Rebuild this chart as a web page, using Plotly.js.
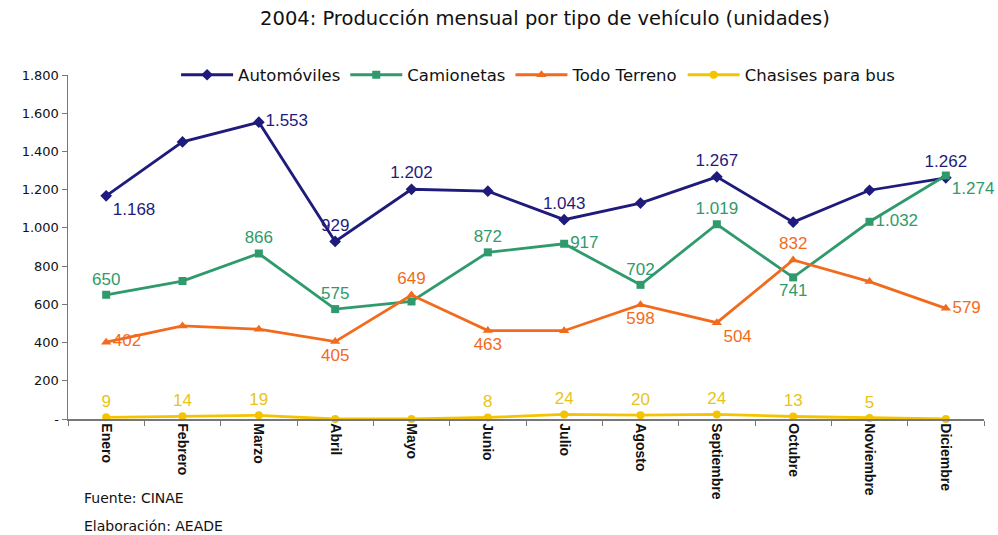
<!DOCTYPE html>
<html>
<head>
<meta charset="utf-8">
<script src="https://cdn.plot.ly/plotly-3.0.1.min.js"></script>
<style>html,body{margin:0;padding:0;background:#fff;}#chart{width:998px;height:535px;}</style>
</head>
<body>
<div id="chart"></div>
<script>
const months = ['Enero','Febrero','Marzo','Abril','Mayo','Junio','Julio','Agosto','Septiembre','Octubre','Noviembre','Diciembre'];
const seriesNames = ['Automóviles','Camionetas','Todo Terreno','Chasises para bus'];
const automoviles = [1168,1450,1553,929,1202,1192,1043,1130,1267,1030,1197,1262];
const camionetas = [650,722,866,575,615,872,917,702,1019,741,1032,1274];
const todoTerreno = [402,487,470,405,649,463,462,598,504,832,719,579];
const chasises = [9,14,19,0,0,8,24,20,24,13,5,0];
// which points carry a value label
const autoShow = [1,0,1,1,1,0,1,0,1,0,0,1];
const camShow  = [1,0,1,1,0,1,1,1,1,1,1,1];
const ttShow   = [1,0,0,1,1,1,0,1,1,1,0,1];
const busShow  = [1,1,1,0,0,1,1,1,1,1,1,0];
const yTickVals = [0,200,400,600,800,1000,1200,1400,1600,1800];
const yTickText = ['-','200','400','600','800','1.000','1.200','1.400','1.600','1.800'];

const fmt = v => String(v).replace(/\B(?=(\d{3})+(?!\d))/g,'.');
const labels = (vals, show) => vals.map((v,i)=> show[i] ? fmt(v) : '');

const autoPos = ['bottom right','top center','middle right','top center','top center','top center','top center','top center','top center','top center','top center','top center'];
const camPos  = ['top center','top center','top center','top center','top center','top center','middle right','top center','top center','bottom center','middle right','bottom right'];
const ttPos   = ['middle right','top center','top center','bottom center','top center','bottom center','top center','bottom center','bottom right','top center','top center','middle right'];
const busPos  = months.map(()=> 'top center');

const cNavy='#1f1b7d', cGreen='#2f9a6c', cOrange='#f26b1d', cYellow='#f5c400';
function tr(name, y, show, pos, color, symbol, size, tcolor){
  return {x: months, y: y, name: name, type:'scatter', mode:'lines+markers+text',
    text: labels(y, show), textposition: pos,
    textfont:{family:'Liberation Sans, Arial, sans-serif', size:17, color: tcolor||color},
    line:{color:color, width:2.8}, marker:{symbol:symbol, size:size, color:color},
    cliponaxis:false, hoverinfo:'none'};
}
const data = [
  tr(seriesNames[0], automoviles, autoShow, autoPos, cNavy, 'diamond', 9),
  tr(seriesNames[1], camionetas, camShow, camPos, cGreen, 'square', 8),
  tr(seriesNames[2], todoTerreno, ttShow, ttPos, cOrange, 'triangle-up', 9),
  tr(seriesNames[3], chasises, busShow, busPos, cYellow, 'circle', 8, '#e8c41a')
];
const layout = {
  width:998, height:535, separators:',.',
  paper_bgcolor:'#fff', plot_bgcolor:'#fff',
  margin:{l:68, r:14, t:75, b:116},
  showlegend:true,
  title:{text:'2004: Producción mensual por tipo de vehículo (unidades)', x:0.546, xanchor:'center', y:0.966, yanchor:'middle',
    font:{family:'DejaVu Sans, Verdana, sans-serif', size:19.5, color:'#111'}},
  legend:{orientation:'h', x:0.118, xanchor:'left', y:1.0, yanchor:'middle', bgcolor:'rgba(0,0,0,0)',
    font:{family:'DejaVu Sans, Verdana, sans-serif', size:16.5, color:'#111'}, itemwidth:52, tracegroupgap:0},
  xaxis:{type:'category', range:[-0.5,11.5], showgrid:false, zeroline:false, showline:true, linecolor:'#777', linewidth:1.5,
    ticks:'outside', tickson:'boundaries', ticklen:5, tickcolor:'#777', tickangle:90,
    tickfont:{family:'Liberation Sans, Arial, sans-serif', size:14, weight:'bold', color:'#111'}},
  yaxis:{range:[0,1800], tickvals:yTickVals, ticktext:yTickText, showgrid:false, zeroline:false,
    showline:true, linecolor:'#777', linewidth:1.5, ticks:'outside', ticklen:5, tickcolor:'#777',
    tickfont:{family:'DejaVu Sans, Verdana, sans-serif', size:13, color:'#111'}},
  annotations:[
    {text:'Fuente: CINAE', xref:'paper', yref:'paper', x:(82-68)/916, y:-(498-419)/344, xanchor:'left', yanchor:'middle', showarrow:false,
      font:{family:'DejaVu Sans, Verdana, sans-serif', size:14, color:'#111'}},
    {text:'Elaboración: AEADE', xref:'paper', yref:'paper', x:(82-68)/916, y:-(526-419)/344, xanchor:'left', yanchor:'middle', showarrow:false,
      font:{family:'DejaVu Sans, Verdana, sans-serif', size:14, color:'#111'}}
  ]
};
Plotly.newPlot('chart', data, layout, {displayModeBar:false, staticPlot:true});
</script>
</body>
</html>
